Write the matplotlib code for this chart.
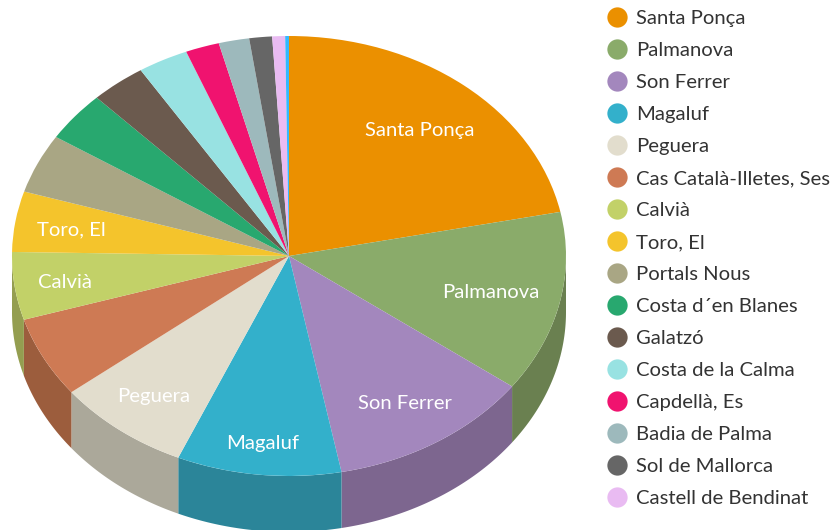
import numpy as np
import matplotlib
matplotlib.use("Agg")
import matplotlib.pyplot as plt
from matplotlib.lines import Line2D

names = ["Santa Ponça", "Palmanova", "Son Ferrer", "Magaluf", "Peguera",
         "Cas Català-Illetes, Ses", "Calvià", "Toro, El", "Portals Nous",
         "Costa d´en Blanes", "Galatzó", "Costa de la Calma", "Capdellà, Es",
         "Badia de Palma", "Sol de Mallorca", "Castell de Bendinat", ""]
shares = [21.78, 13.31, 11.86, 9.58, 7.83, 5.94, 4.97, 4.44, 4.36,
          3.69, 3.22, 2.94, 1.97, 1.78, 1.33, 0.75, 0.22]
colors = ["#eb9000", "#8aab6a", "#a387bd", "#33b0cb", "#e2ddcd", "#ce7a54",
          "#c2d168", "#f4c42c", "#a9a684", "#28a86f", "#6b5a4e", "#98e2e2",
          "#f0136f", "#9db9bc", "#666666", "#e9bbf2", "#35b8ff"]
side_colors = ["#b87100", "#6a8050", "#7d668f", "#2b8599", "#aba89a", "#9c5d3d",
               "#949e50", "#b89420", "#807e64", "#1e8054", "#51443b", "#73abab",
               "#b60e54", "#778c8f", "#4d4d4d", "#b18eb8", "#2a8cc2"]
label_radii = [0.745, 0.745, 0.785, 0.85, 0.80, None, 0.815, 0.795]

W, H = 832, 530
CX, CY, RX, RY, DEPTH = 289, 256, 277, 220, 56
FONT = 14.6

fig = plt.figure(figsize=(W / 100, H / 100), dpi=100, facecolor="white")
ax = fig.add_axes([0, 0, 1, 1])

wedges, _ = ax.pie(shares, colors=colors, startangle=90, counterclock=False,
                   radius=1, wedgeprops=dict(linewidth=0, zorder=3))
ax.set_aspect("auto")
ax.set_xlim(-CX / RX, (W - CX) / RX)
ax.set_ylim((CY - H) / RY, CY / RY)

# extruded wall: only the front half of the cylinder is visible
depth = DEPTH / RY
edges = np.concatenate([[0], np.cumsum(shares)]) / np.sum(shares) * 360
for a0, a1, c in zip(edges[:-1], edges[1:], side_colors):
    lo, hi = max(a0, 90), min(a1, 270)
    if hi <= lo:
        continue
    t = np.radians(np.linspace(lo, hi, 60))
    x = np.sin(t)
    y = np.cos(t)
    ax.fill(np.r_[x, x[::-1]], np.r_[y, y[::-1] - depth], color=c, lw=0, zorder=2)

for name, a0, a1, r in zip(names, edges[:-1], edges[1:], label_radii):
    if r is None:
        continue
    m = np.radians((a0 + a1) / 2)
    ax.text(r * np.sin(m), r * np.cos(m) - 1.5 / RY, name, color="white", ha="center",
            va="center", family="Lato", fontsize=FONT, zorder=5)

handles = [Line2D([], [], ls="none", marker="o", ms=14.6, mfc=c, mec="none")
           for n, c in zip(names, colors) if n]
leg = ax.legend(handles, [n for n in names if n], loc="upper left",
                bbox_to_anchor=(607 / W, 1 - 10 / H), bbox_transform=fig.transFigure,
                frameon=False, prop=dict(family="Lato", size=FONT),
                labelcolor="#333333", labelspacing=0.73, handlelength=1.0,
                handletextpad=0.44, borderpad=0, borderaxespad=0)

fig.savefig("out.png", dpi=100)
